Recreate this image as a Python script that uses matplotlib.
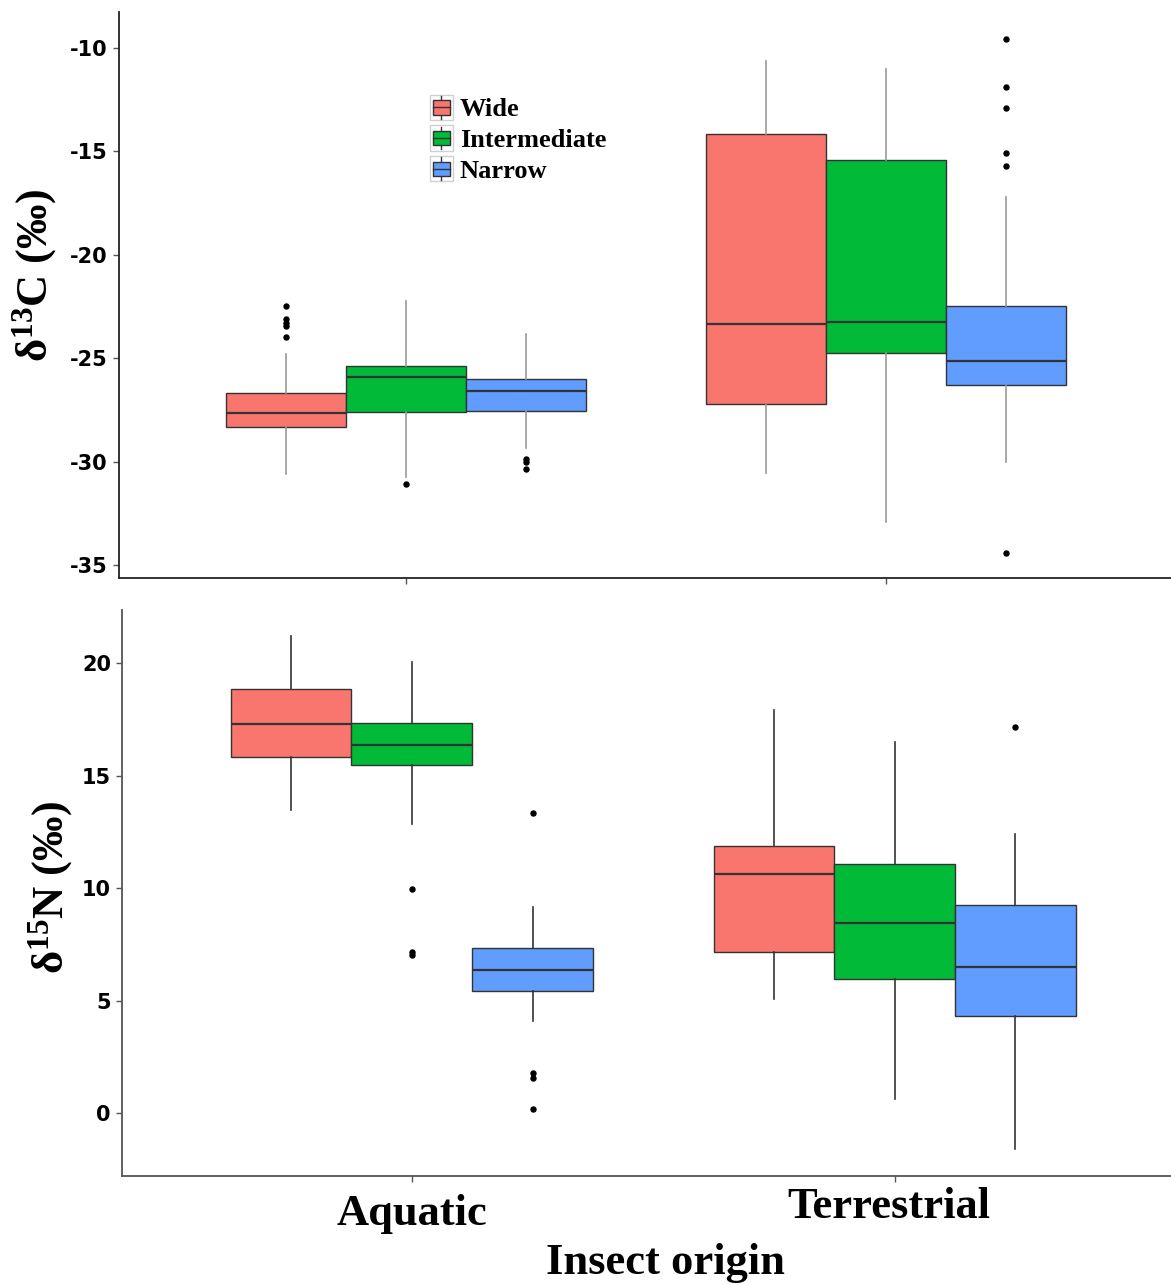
import matplotlib
matplotlib.use("Agg")
import matplotlib.pyplot as plt
from matplotlib.patches import Patch, Rectangle
from matplotlib.lines import Line2D
from matplotlib.legend_handler import HandlerBase

plt.rcParams["mathtext.fontset"] = "custom"
plt.rcParams["mathtext.rm"] = "Liberation Serif:bold"
plt.rcParams["mathtext.it"] = "Liberation Serif:bold"
plt.rcParams["mathtext.bf"] = "Liberation Serif:bold"

# Categories
origins = ["Aquatic", "Terrestrial"]
ranges = ["Wide", "Intermediate", "Narrow"]
colors = ["#F8766D", "#00BA38", "#619CFF"]

# d13C box stats, order: Aquatic W/I/N, Terrestrial W/I/N
c13_whislo = [-30.60, -30.73, -29.36, -30.53, -32.91, -30.02]
c13_q1 = [-28.33, -27.59, -27.55, -27.21, -24.76, -26.28]
c13_med = [-27.65, -25.92, -26.59, -23.37, -23.24, -25.15]
c13_q3 = [-26.68, -25.36, -25.99, -14.16, -15.44, -22.48]
c13_whishi = [-24.80, -22.23, -23.85, -10.65, -11.03, -17.21]
c13_fliers = [
    [-22.48, -23.10, -23.30, -23.45, -23.97],
    [-31.08],
    [-29.89, -30.00, -30.36],
    [],
    [],
    [-9.55, -11.88, -12.88, -15.07, -15.69, -34.41],
]

# d15N box stats, same order
n15_whislo = [13.47, 12.84, 4.09, 5.05, 0.62, -1.61]
n15_q1 = [15.84, 15.45, 5.42, 7.16, 5.96, 4.31]
n15_med = [17.29, 16.36, 6.36, 10.62, 8.46, 6.49]
n15_q3 = [18.84, 17.35, 7.32, 11.87, 11.05, 9.24]
n15_whishi = [21.21, 20.04, 9.17, 17.91, 16.50, 12.41]
n15_fliers = [
    [],
    [9.94, 7.17, 7.02],
    [13.33, 1.79, 1.57, 0.16],
    [],
    [],
    [17.17],
]

c13_ticks = [-10, -15, -20, -25, -30, -35]
n15_ticks = [20, 15, 10, 5, 0]


class BoxKey(HandlerBase):
    def create_artists(self, legend, orig_handle, xd, yd, width, height, fontsize, trans):
        x0, y0 = -xd, -yd
        bg = Rectangle((x0, y0), width, height, fc="white", ec="#d0d0d0", lw=1, transform=trans)
        bx = Rectangle((x0 + width * 0.12, y0 + height * 0.22), width * 0.76, height * 0.56,
                       fc=orig_handle.get_facecolor(), ec="#333333", lw=1, transform=trans)
        med = Line2D([x0 + width * 0.12, x0 + width * 0.88], [y0 + height / 2] * 2,
                     color="#333333", lw=1, transform=trans)
        w1 = Line2D([x0 + width / 2] * 2, [y0 + height * 0.05, y0 + height * 0.22],
                    color="#333333", lw=1, transform=trans)
        w2 = Line2D([x0 + width / 2] * 2, [y0 + height * 0.78, y0 + height * 0.95],
                    color="#333333", lw=1, transform=trans)
        return [bg, w1, w2, bx, med]


def draw_boxes(ax, whislo, q1, med, q3, whishi, fliers, whisker_color):
    offsets = [-0.25, 0.0, 0.25]
    for r in range(3):
        stats = []
        pos = []
        for o in range(2):
            i = o * 3 + r
            stats.append(dict(whislo=whislo[i], q1=q1[i], med=med[i], q3=q3[i],
                              whishi=whishi[i], fliers=fliers[i]))
            pos.append(o + 1 + offsets[r])
        ax.bxp(stats, positions=pos, widths=0.25, patch_artist=True, showcaps=False,
               boxprops=dict(facecolor=colors[r], edgecolor="#333333", linewidth=1.0),
               medianprops=dict(color="#333333", linewidth=1.6),
               whiskerprops=dict(color=whisker_color, linewidth=1.2),
               flierprops=dict(marker="o", markersize=3.6, markerfacecolor="black",
                               markeredgecolor="black"))


def style_axes(ax, yticks, spine_color):
    ax.spines["top"].set_visible(False)
    ax.spines["right"].set_visible(False)
    for s in ["left", "bottom"]:
        ax.spines[s].set_color(spine_color)
        ax.spines[s].set_linewidth(1.3)
    ax.set_xticks([1, 2])
    ax.set_xticklabels([])
    ax.set_yticks(yticks)
    ax.set_yticklabels([str(t) for t in yticks], fontfamily="DejaVu Sans",
                       fontweight="bold", fontsize=15)
    ax.tick_params(length=4, width=1, color="#555555", pad=4)


fig = plt.figure(figsize=(11.71, 12.85), dpi=100)

# top panel: d13C
ax1 = fig.add_axes([119 / 1171, 1 - 578 / 1285, 1052 / 1171, 566 / 1285])
draw_boxes(ax1, c13_whislo, c13_q1, c13_med, c13_q3, c13_whishi, c13_fliers, "#999999")
ax1.set_xlim(0.402, 2.594)
ax1.set_ylim(-35.63, -8.26)
style_axes(ax1, c13_ticks, "#222222")
ax1.text(-0.080, 0.535, "δ$^{13}$C (‰)", transform=ax1.transAxes, rotation=90,
         ha="center", va="center", fontfamily="Liberation Serif", fontweight="bold",
         fontsize=32)

handles = [Patch(facecolor=c) for c in colors]
ax1.legend(handles, ranges, handler_map={Patch: BoxKey()}, loc="upper left",
           bbox_to_anchor=(0.2832, 0.877), frameon=False, borderpad=0,
           handlelength=0.85, handleheight=1.1, labelspacing=0.15, handletextpad=0.28,
           prop=dict(family="Liberation Serif", weight="bold", size=19))

# bottom panel: d15N
ax2 = fig.add_axes([122 / 1171, 1 - 1176 / 1285, 1049 / 1171, 566 / 1285])
draw_boxes(ax2, n15_whislo, n15_q1, n15_med, n15_q3, n15_whishi, n15_fliers, "#333333")
ax2.set_xlim(0.400, 2.572)
ax2.set_ylim(-2.8, 22.36)
style_axes(ax2, n15_ticks, "#555555")
ax2.text(-0.068, 0.51, "δ$^{15}$N (‰)", transform=ax2.transAxes, rotation=90,
         ha="center", va="center", fontfamily="Liberation Serif", fontweight="bold",
         fontsize=32)

label_x = [1.0, 1.988]
label_y = [-0.0866, -0.0742]
for k, name in enumerate(origins):
    ax2.text(label_x[k], label_y[k], name, transform=ax2.get_xaxis_transform(), ha="center",
             va="baseline", fontfamily="Liberation Serif", fontweight="bold", fontsize=32)

fig.text(665 / 1171, 1 - 1274 / 1285, "Insect origin", ha="center", va="baseline",
         fontfamily="Liberation Serif", fontweight="bold", fontsize=32)

fig.savefig("out.png", dpi=100)
